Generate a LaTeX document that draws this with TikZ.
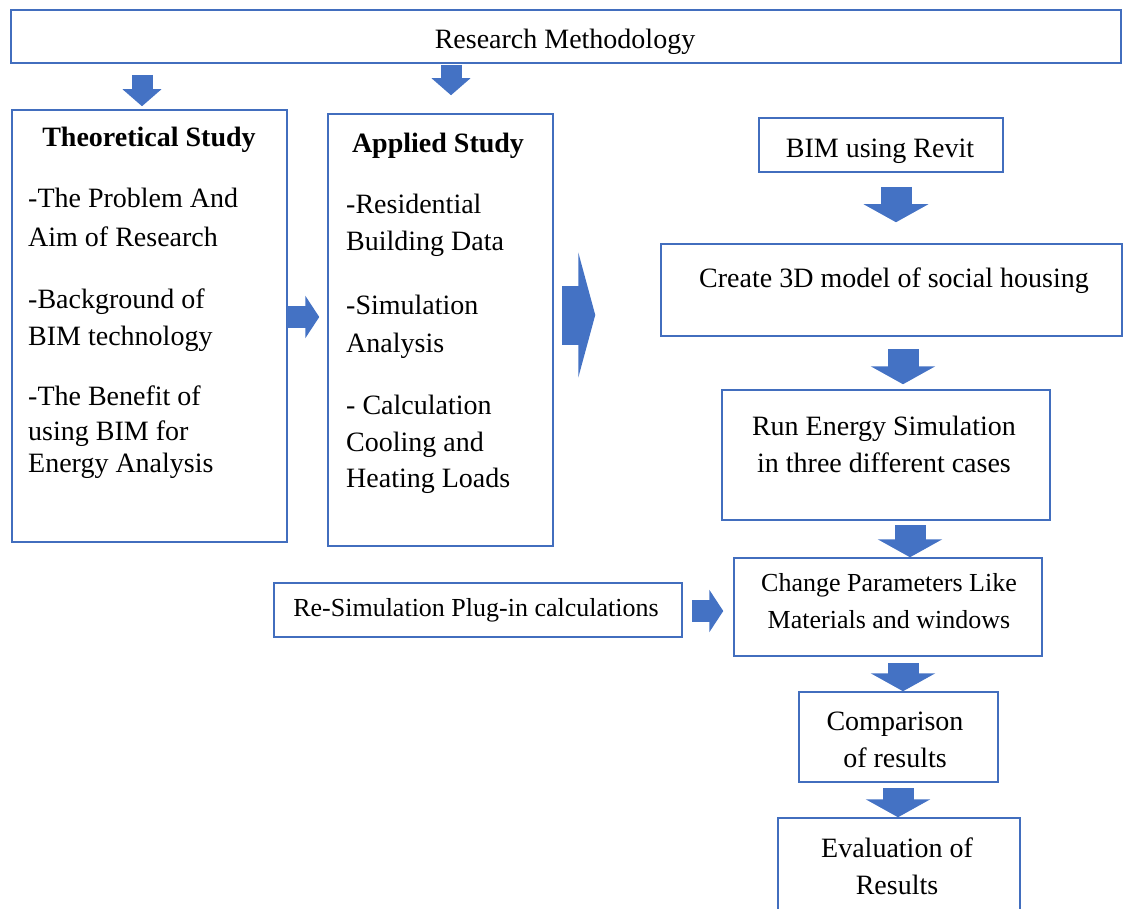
\documentclass[tikz,border=0pt]{standalone}
\usepackage{fontspec}
\setmainfont{Liberation Serif}
\usetikzlibrary{arrows.meta,positioning}

\definecolor{boxblue}{RGB}{66,110,190}
\definecolor{arrowblue}{RGB}{68,114,196}

\begin{document}
\begin{tikzpicture}[x=1pt,y=-1pt,
  box/.style={draw=boxblue,line width=1.5pt,inner sep=0pt},
  boxtext/.style={font=\fontsize{28}{37}\selectfont,align=center,inner sep=0pt},
  smalltext/.style={font=\fontsize{26}{37}\selectfont,align=center,inner sep=0pt},
  listtext/.style={font=\fontsize{28}{37}\selectfont,align=left,anchor=base west,inner sep=0pt},
  headtext/.style={font=\fontsize{28}{37}\selectfont\bfseries,anchor=base,inner sep=0pt},
  downblock/.style={draw=arrowblue,line width=21pt,-{Triangle[width=38pt,length=17pt]}},
  bigdown/.style={draw=arrowblue,line width=31pt,-{Triangle[width=64pt,length=18pt]}},
  sideblock/.style={draw=arrowblue,line width=22pt,-{Triangle[width=42pt,length=14pt]}},
  bigblock/.style={draw=arrowblue,line width=59pt,-{Triangle[width=125pt,length=17pt]}}]

  \useasboundingbox (0,0) rectangle (1123,909);
  \clip (0,0) rectangle (1123,909);

  % boxes
  \node[box,minimum width=1110pt,minimum height=53pt] (top) at (566,36.5) {};
  \node[boxtext] (toptxt) at (565,42) {Research Methodology};

  \node[box,minimum width=275pt,minimum height=432pt] (theo) at (149.5,326) {};
  \node[box,minimum width=225pt,minimum height=432pt] (app) at (440.5,330) {};

  \node[box,minimum width=244pt,minimum height=54pt] (bim) at (881,145) {};
  \node[box,minimum width=461pt,minimum height=92pt] (model) at (891.5,290) {};
  \node[box,minimum width=328pt,minimum height=130pt] (run) at (886,455) {};
  \node[box,minimum width=308pt,minimum height=98pt] (change) at (888,607) {};
  \node[box,minimum width=408pt,minimum height=54pt] (resim) at (478,610) {};
  \node[box,minimum width=199pt,minimum height=90pt] (comp) at (898.5,737) {};
  \node[box,minimum width=242pt,minimum height=122pt] (eval) at (899,879) {};

  % theoretical study
  \node[headtext] (theohead) at (149,147) {Theoretical Study};
  \node[listtext] (theo1) at (28,208) {-The Problem And};
  \node[listtext] (theo2) at (28,246) {Aim of Research};
  \node[listtext] (theo3) at (28,308) {-Background of};
  \node[listtext] (theo4) at (28,345) {BIM technology};
  \node[listtext] (theo5) at (28,405) {-The Benefit of};
  \node[listtext] (theo6) at (28,440) {using BIM for};
  \node[listtext] (theo7) at (28,472) {Energy Analysis};

  % applied study
  \node[headtext] (apphead) at (438,153) {Applied Study};
  \node[listtext] (app1) at (346,214) {-Residential};
  \node[listtext] (app2) at (346,251) {Building Data};
  \node[listtext] (app3) at (346,314) {-Simulation};
  \node[listtext] (app4) at (346,352) {Analysis};
  \node[listtext] (app5) at (346,414) {- Calculation};
  \node[listtext] (app6) at (346,451) {Cooling and};
  \node[listtext] (app7) at (346,487) {Heating Loads};

  % right column
  \node[boxtext] (bimtxt) at (880,151) {BIM using Revit};
  \node[boxtext] (modeltxt) at (894,281) {Create 3D model of social housing};
  \node[boxtext] (runtxt) at (884,444) {Run Energy Simulation\\in three different cases};
  \node[smalltext] (changetxt) at (889,601) {Change Parameters Like\\Materials and windows};
  \node[smalltext] (resimtxt) at (476,610) {Re-Simulation Plug-in calculations};
  \node[boxtext] (comptxt) at (895,740) {Comparison\\of results};
  \node[boxtext] (evaltxt) at (897,866) {Evaluation of\\Results};

  % arrows
  \coordinate (a1) at (142,75);
  \coordinate (a2) at (451,65);
  \coordinate (a3) at (896,187);
  \coordinate (a4) at (903,349);
  \coordinate (a5) at (910,525);
  \coordinate (a6) at (903,663);
  \coordinate (a7) at (898,788);
  \coordinate (h1) at (287,317);
  \coordinate (h2) at (562,315);
  \coordinate (h3) at (692,611);

  \draw[downblock,shorten >=3pt] (a1) -- (a1 |- theo.north);
  \draw[downblock,shorten >=18pt] (a2) -- (a2 |- app.north);
  \draw[bigdown,shorten >=21pt] (a3) -- (a3 |- model.north);
  \draw[bigdown,shorten >=5pt] (a4) -- (a4 |- run.north);
  \draw[bigdown] (a5) -- (a5 |- change.north);
  \draw[bigdown] (a6) -- (a6 |- comp.north);
  \draw[bigdown] (a7) -- (a7 |- eval.north);
  \draw[sideblock,shorten >=8pt] (h1) -- (h1 -| app.west);
  \draw[bigblock,shorten >=65pt] (h2) -- (h2 -| model.west);
  \draw[sideblock,shorten >=10pt] (h3) -- (h3 -| change.west);
\end{tikzpicture}
\end{document}
